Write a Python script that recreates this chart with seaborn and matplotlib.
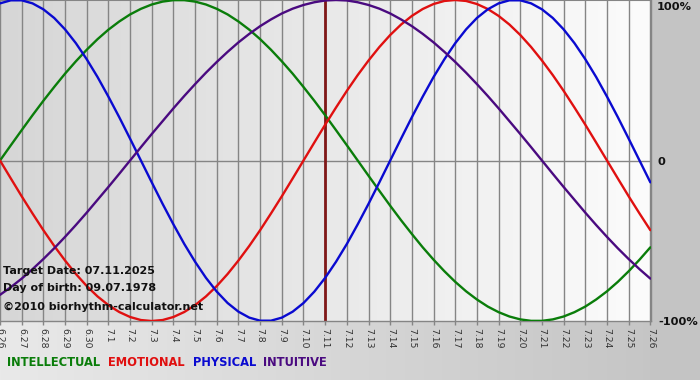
import numpy as np
import pandas as pd
import matplotlib
matplotlib.use("Agg")
import matplotlib.pyplot as plt
import seaborn as sns
from matplotlib.colors import LinearSegmentedColormap

# ---------------- data ----------------
day_labels = ["6.26", "6.27", "6.28", "6.29", "6.30",
              "7.1", "7.2", "7.3", "7.4", "7.5", "7.6", "7.7", "7.8", "7.9", "7.10",
              "7.11", "7.12", "7.13", "7.14", "7.15", "7.16", "7.17", "7.18", "7.19",
              "7.20", "7.21", "7.22", "7.23", "7.24", "7.25", "7.26"]

# readings every half day (0, 0.5, 1, ... 30 days from 6.26)
intellectual = [0.000, 0.095, 0.189, 0.282, 0.372, 0.458, 0.541, 0.618, 0.690, 0.756,
                0.815, 0.866, 0.910, 0.945, 0.972, 0.990, 0.999, 0.999, 0.990, 0.972,
                0.945, 0.910, 0.866, 0.815, 0.756, 0.690, 0.618, 0.541, 0.458, 0.372,
                0.282, 0.189, 0.095, 0.000, -0.095, -0.189, -0.282, -0.372, -0.458, -0.541,
                -0.618, -0.690, -0.756, -0.815, -0.866, -0.910, -0.945, -0.972, -0.990, -0.999,
                -0.999, -0.990, -0.972, -0.945, -0.910, -0.866, -0.815, -0.756, -0.690, -0.618,
                -0.541]
emotional = [0.000, -0.112, -0.223, -0.330, -0.434, -0.532, -0.623, -0.707, -0.782, -0.847,
             -0.901, -0.944, -0.975, -0.994, -1.000, -0.994, -0.975, -0.944, -0.901, -0.847,
             -0.782, -0.707, -0.623, -0.532, -0.434, -0.330, -0.223, -0.112, 0.000, 0.112,
             0.223, 0.330, 0.434, 0.532, 0.623, 0.707, 0.782, 0.847, 0.901, 0.944,
             0.975, 0.994, 1.000, 0.994, 0.975, 0.944, 0.901, 0.847, 0.782, 0.707,
             0.623, 0.532, 0.434, 0.330, 0.223, 0.112, 0.000, -0.112, -0.223, -0.330,
             -0.434]
physical = [0.979, 0.998, 0.998, 0.979, 0.942, 0.888, 0.817, 0.731, 0.631, 0.520,
            0.398, 0.270, 0.136, 0.000, -0.136, -0.270, -0.398, -0.520, -0.631, -0.731,
            -0.817, -0.888, -0.942, -0.979, -0.998, -0.998, -0.979, -0.942, -0.888, -0.817,
            -0.731, -0.631, -0.520, -0.398, -0.270, -0.136, 0.000, 0.136, 0.270, 0.398,
            0.520, 0.631, 0.731, 0.817, 0.888, 0.942, 0.979, 0.998, 0.998, 0.979,
            0.942, 0.888, 0.817, 0.731, 0.631, 0.520, 0.398, 0.270, 0.136, 0.000,
            -0.136]
intuitive = [-0.837, -0.789, -0.736, -0.677, -0.614, -0.547, -0.476, -0.402, -0.325, -0.245,
             -0.165, -0.083, 0.000, 0.083, 0.165, 0.245, 0.325, 0.402, 0.476, 0.547,
             0.614, 0.677, 0.736, 0.789, 0.837, 0.879, 0.916, 0.946, 0.969, 0.986,
             0.997, 1.000, 0.997, 0.986, 0.969, 0.946, 0.916, 0.879, 0.837, 0.789,
             0.736, 0.677, 0.614, 0.547, 0.476, 0.402, 0.325, 0.245, 0.165, 0.083,
             0.000, -0.083, -0.165, -0.245, -0.325, -0.402, -0.476, -0.547, -0.614, -0.677,
             -0.736]

series_names = ["INTELLECTUAL", "EMOTIONAL", "PHYSICAL", "INTUITIVE"]
series_colors = ["#0a7d0a", "#e01010", "#0a0ad0", "#4a0a80"]
target_label = "7.11"
target_text = "Target Date: 07.11.2025"
birth_text = "Day of birth: 09.07.1978"
copyright_text = "\u00a92010 biorhythm-calculator.net"
y_labels = ["100%", "0", "-100%"]

# ---------------- build long-form table ----------------
days = np.arange(len(day_labels))
half_days = np.arange(len(intellectual)) / 2.0
df = pd.concat([
    pd.DataFrame({"day": half_days, "value": vals, "series": name})
    for name, vals in zip(series_names, [intellectual, emotional, physical, intuitive])
], ignore_index=True)

sns.set_theme(style="white")
plt.rcParams["font.family"] = ["DejaVu Sans"]

W, H = 700, 380
fig = plt.figure(figsize=(W / 100, H / 100), dpi=100)

# figure background gradient
bg = fig.add_axes([0, 0, 1, 1], zorder=-10)
bg_cmap = LinearSegmentedColormap.from_list("bg", ["#e9e9e9", "#c3c3c3"])
bg.imshow(np.linspace(0, 1, 256)[None, :], aspect="auto", cmap=bg_cmap,
          extent=[0, 1, 0, 1], origin="lower")
bg.set_xlim(0, 1); bg.set_ylim(0, 1)
bg.axis("off")
bg.add_patch(plt.Rectangle((651 / W, 0), 1, 1, color="#c4c4c4", zorder=2))

plot_left, plot_right = 0 / W, 651 / W
plot_top, plot_bottom = 0 / H, 321 / H
ax = fig.add_axes([plot_left, 1 - plot_bottom, plot_right - plot_left, plot_bottom - plot_top])

# plot area gradient
pa_cmap = LinearSegmentedColormap.from_list("pa", ["#d6d6d6", "#fcfcfc"])
ax.imshow(np.linspace(0, 1, 256)[None, :], aspect="auto", cmap=pa_cmap,
          extent=[0, len(days) - 1, -1.0, 1.0], origin="lower", zorder=0)

for d in days:
    ax.axvline(d, color="#858585", lw=1.0, zorder=1)
ax.axhline(0, color="#858585", lw=1.0, zorder=1)
ax.axhline(1.0, color="#858585", lw=1.5, zorder=1)

ti = day_labels.index(target_label)
ax.axvline(ti, color="#801818", lw=2.0, zorder=2)

sns.lineplot(data=df, x="day", y="value", hue="series", hue_order=series_names,
             palette=dict(zip(series_names, series_colors)), ax=ax, lw=1.7,
             legend=False, zorder=3)

ax.set_xlim(0, len(days) - 1 + 0.03)
ax.set_ylim(-1.0, 1.0)
ax.set_xlabel(""); ax.set_ylabel("")
ax.set_xticks(days)
ax.set_xticklabels(day_labels, rotation=-90, fontsize=6.7, color="#333333")
ax.set_yticks([])
ax.tick_params(axis="x", bottom=True, length=3, width=1, color="#858585", pad=2)
for s in ["top", "left"]:
    ax.spines[s].set_visible(False)
ax.spines["right"].set_color("#858585")
ax.spines["bottom"].set_color("#858585")
ax.spines["right"].set_linewidth(1.0)
ax.spines["bottom"].set_linewidth(1.0)

def ftext(x, y, s, **kw):
    fig.text(x / W, 1 - y / H, s, va="center", ha="left", **kw)

ftext(3, 271, target_text, fontsize=8.0, fontweight="bold", color="#111111")
ftext(3, 288, birth_text, fontsize=8.0, fontweight="bold", color="#111111")
ftext(3, 307, copyright_text, fontsize=8.0, fontweight="bold", color="#111111")

ftext(657, 7, y_labels[0], fontsize=8.2, fontweight="bold", color="#111111")
ftext(657, 162, y_labels[1], fontsize=8.2, fontweight="bold", color="#111111")
ftext(658, 322, y_labels[2], fontsize=8.2, fontweight="bold", color="#111111")

leg_x = [7, 108, 193, 263]
for x, name, c in zip(leg_x, series_names, series_colors):
    ftext(x, 362, name, fontsize=8.3, fontweight="bold", color=c)

fig.savefig("out.png", dpi=100)
